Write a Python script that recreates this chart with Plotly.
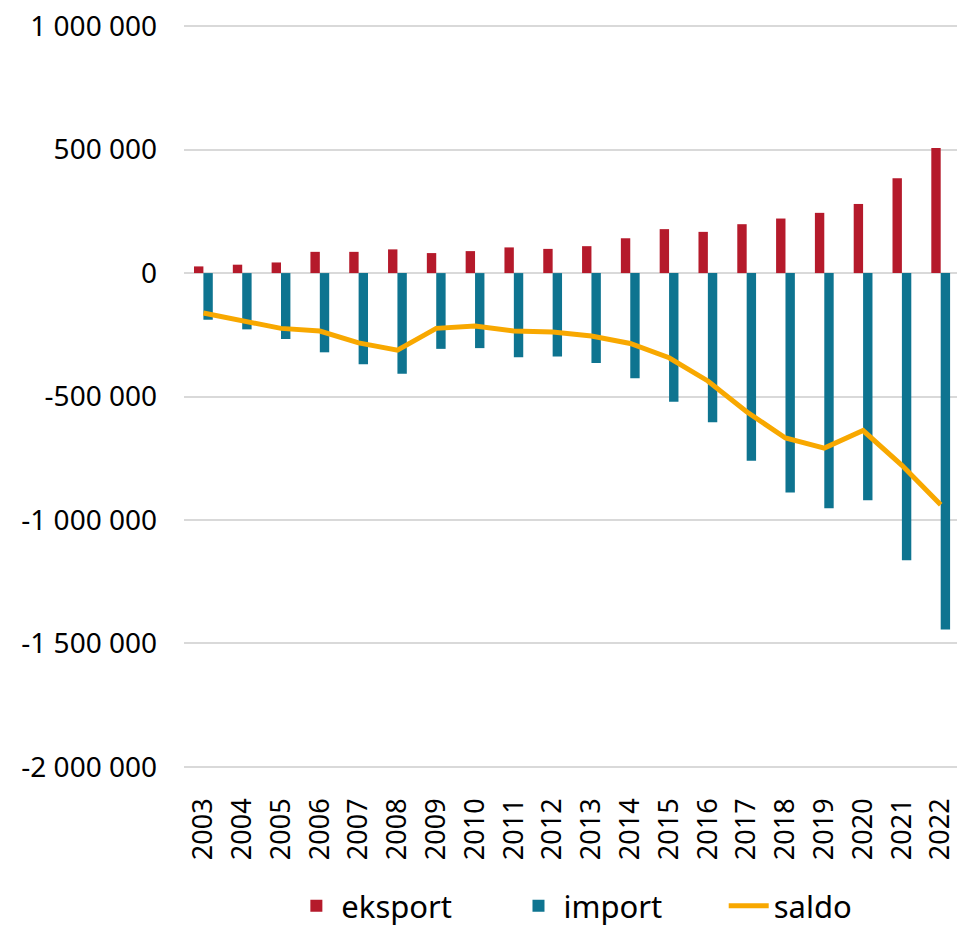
import plotly.graph_objects as go

years = ["2003", "2004", "2005", "2006", "2007", "2008", "2009", "2010", "2011", "2012",
         "2013", "2014", "2015", "2016", "2017", "2018", "2019", "2020", "2021", "2022"]
eksport = [27000, 34000, 43000, 86000, 86000, 96000, 81000, 89000, 104000, 98000,
           109000, 141000, 178000, 167000, 198000, 221000, 244000, 280000, 384000, 507000]
import_ = [-189000, -228000, -267000, -321000, -369000, -408000, -307000, -304000, -341000, -338000,
           -364000, -426000, -521000, -604000, -760000, -889000, -953000, -920000, -1163000, -1444000]
saldo = [-162000, -194000, -224000, -235000, -283000, -312000, -224000, -214000, -235000, -239000,
         -255000, -285000, -343000, -437000, -562000, -668000, -709000, -638000, -779000, -939000]

y_tickvals = [1000000, 500000, 0, -500000, -1000000, -1500000, -2000000]
y_ticktext = ["1 000 000", "500 000", "0", "-500 000", "-1 000 000", "-1 500 000", "-2 000 000"]

RED = "#B51A2B"
TEAL = "#0E7490"
ORANGE = "#F8A800"
FONT = "Noto Sans"
PAD = "\u00a0" * 7

fig = go.Figure()
fig.add_trace(go.Bar(x=years, y=eksport, name="eksport" + PAD, marker=dict(color=RED, line=dict(width=0))))
fig.add_trace(go.Bar(x=years, y=import_, name="import" + PAD, marker=dict(color=TEAL, line=dict(width=0))))
fig.add_trace(go.Scatter(x=years, y=saldo, name="saldo", mode="lines",
                         line=dict(color=ORANGE, width=5)))

fig.update_layout(
    width=949, height=917,
    margin=dict(l=176, r=0, t=17, b=157, autoexpand=False),
    paper_bgcolor="white", plot_bgcolor="white",
    barmode="group", bargap=0.516, bargroupgap=0,
    font=dict(family=FONT, color="black"),
    showlegend=True,
    legend=dict(orientation="h", x=0.505, xanchor="center", y=-0.186, yanchor="middle",
                font=dict(family=FONT, size=31, color="black"), itemwidth=40,
                bgcolor="rgba(0,0,0,0)"),
)
fig.update_xaxes(
    type="category", range=[-0.5, 19.42],
    tickangle=-90, tickfont=dict(family=FONT, size=27, color="black"),
    showgrid=False, zeroline=False, showline=False, ticks="",
    ticklabelstandoff=24, automargin=False,
)
fig.update_yaxes(
    range=[-2005000, 1005000],
    tickvals=y_tickvals, ticktext=y_ticktext,
    tickfont=dict(family=FONT, size=28, color="black"),
    showgrid=True, gridcolor="#D9D9D9", gridwidth=1.5,
    zeroline=True, zerolinecolor="#D9D9D9", zerolinewidth=1.5,
    showline=False, ticks="", ticklabelstandoff=26,
    ticklabeloverflow="allow", automargin=False,
)

fig.write_html("out.html")
